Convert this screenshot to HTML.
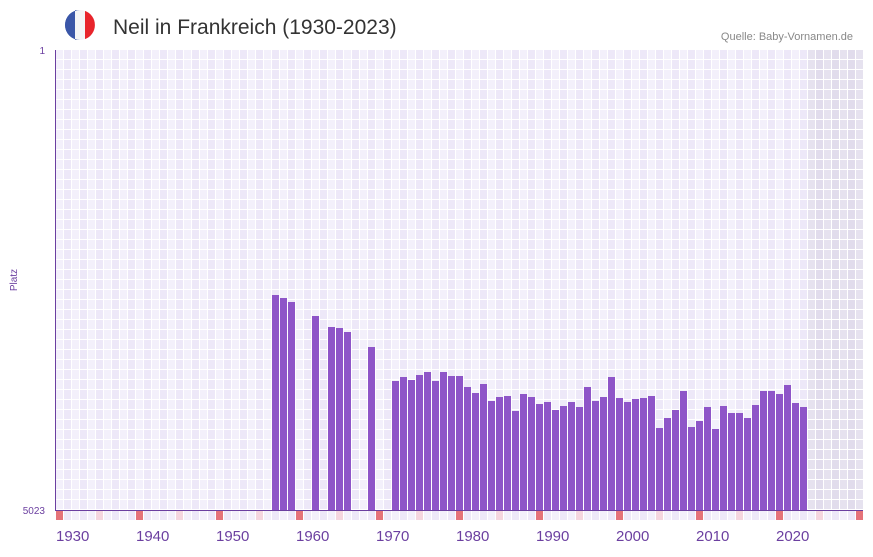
<!DOCTYPE html><html><head><meta charset="utf-8"><style>body{margin:0;background:#fff;font-family:"Liberation Sans",sans-serif}</style></head><body>
<svg width="873" height="552" xmlns="http://www.w3.org/2000/svg" font-family="Liberation Sans, sans-serif">
<defs>
<pattern id="g" x="56" y="50" width="16" height="10" patternUnits="userSpaceOnUse">
<rect x="0" y="0" width="7" height="9" fill="#f3f0fb"/><rect x="8" y="0" width="7" height="9" fill="#ede8f8"/>
</pattern>
<pattern id="s" x="56" y="50" width="16" height="10" patternUnits="userSpaceOnUse">
<rect x="0" y="0" width="7" height="9" fill="#e6e2ef"/><rect x="8" y="0" width="7" height="9" fill="#e1dcec"/>
</pattern>
<pattern id="b" x="56" y="511" width="16" height="9" patternUnits="userSpaceOnUse">
<rect x="0" y="0" width="7" height="9" fill="#f3f0fb"/><rect x="8" y="0" width="7" height="9" fill="#ede8f8"/>
</pattern>
</defs>
<circle cx="80" cy="25" r="15" fill="#f4f4f6"/>
<path d="M80 10 A15 15 0 0 0 80 40 L75 40 L75 10Z" fill="#3a56a8"/>
<path d="M75 10.9 A15 15 0 0 0 75 39.1Z" fill="#3a56a8"/>
<path d="M85 10.9 A15 15 0 0 1 85 39.1Z" fill="#e8242b"/>
<text x="113" y="34" font-size="21" fill="#333">Neil in Frankreich (1930-2023)</text>
<text x="853" y="40" font-size="11" fill="#888" text-anchor="end">Quelle: Baby-Vornamen.de</text>
<rect x="56" y="50" width="807" height="460" fill="url(#g)"/>
<rect x="808" y="50" width="55" height="460" fill="url(#s)"/>
<rect x="56" y="511" width="807" height="9" fill="url(#b)"/>
<g fill="#f5d6df"><rect x="96" y="511" width="7" height="9"/><rect x="176" y="511" width="7" height="9"/><rect x="256" y="511" width="7" height="9"/><rect x="336" y="511" width="7" height="9"/><rect x="416" y="511" width="7" height="9"/><rect x="496" y="511" width="7" height="9"/><rect x="576" y="511" width="7" height="9"/><rect x="656" y="511" width="7" height="9"/><rect x="736" y="511" width="7" height="9"/><rect x="816" y="511" width="7" height="9"/></g>
<g fill="#e57379"><rect x="56" y="511" width="7" height="9"/><rect x="136" y="511" width="7" height="9"/><rect x="216" y="511" width="7" height="9"/><rect x="296" y="511" width="7" height="9"/><rect x="376" y="511" width="7" height="9"/><rect x="456" y="511" width="7" height="9"/><rect x="536" y="511" width="7" height="9"/><rect x="616" y="511" width="7" height="9"/><rect x="696" y="511" width="7" height="9"/><rect x="776" y="511" width="7" height="9"/><rect x="856" y="511" width="7" height="9"/></g>
<g fill="#8e55c8" id="bars"></g>
<line x1="55.5" y1="50" x2="55.5" y2="510" stroke="#6b3fa0" stroke-width="1"/>
<line x1="55" y1="510.5" x2="863" y2="510.5" stroke="#6b3fa0" stroke-width="1"/>
<text x="45" y="54" font-size="10" fill="#6b3fa0" text-anchor="end">1</text>
<text x="45" y="514" font-size="10" fill="#6b3fa0" text-anchor="end">5023</text>
<text x="17" y="280" font-size="10" fill="#6b3fa0" text-anchor="middle" transform="rotate(-90 17 280)">Platz</text>
<g font-size="15" fill="#6b3fa0">
<text x="56" y="541">1930</text><text x="136" y="541">1940</text><text x="216" y="541">1950</text><text x="296" y="541">1960</text><text x="376" y="541">1970</text><text x="456" y="541">1980</text><text x="536" y="541">1990</text><text x="616" y="541">2000</text><text x="696" y="541">2010</text><text x="776" y="541">2020</text>
</g>
</svg>
<script>
var d={1957:295,1958:298,1959:302,1962:316,1964:327,1965:328,1966:332,1969:347};
var t=[381,377,380,375,372,381,372,376,376,387,393,384,401,397,396,411,394,397,404,402,410,406,402,407,387,401,397,377,398,402,399,398,396,428,418,410,391,427,421,407,429,406,413,413,418,405,391,391,394,385,403,407];
t.forEach(function(v,i){d[1972+i]=v});
var g=document.getElementById('bars'),h='';
for(var y in d){var x=56+(y-1930)*8;h+='<rect x="'+x+'" y="'+d[y]+'" width="7" height="'+(510-d[y])+'"/>';}
g.innerHTML=h;
</script>
</body></html>
